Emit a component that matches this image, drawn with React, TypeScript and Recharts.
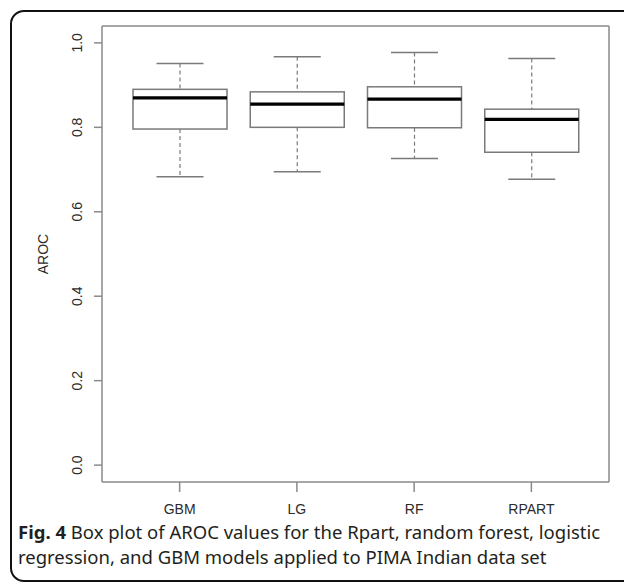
import React from 'react';
import { ComposedChart, Bar, XAxis, YAxis } from 'recharts';

// AROC box plot values
const models = ['GBM', 'LG', 'RF', 'RPART'];
const lowerWhisker = [0.683, 0.695, 0.726, 0.677];
const lowerQuartile = [0.796, 0.8, 0.799, 0.741];
const medians = [0.87, 0.855, 0.867, 0.819];
const upperQuartile = [0.89, 0.884, 0.896, 0.843];
const upperWhisker = [0.951, 0.967, 0.977, 0.963];
const yTicks = [0, 0.2, 0.4, 0.6, 0.8, 1.0];

const AXIS_GREY = '#8a8a8a';
const BOX_GREY = '#7a7a7a';
const TEXT = '#2b2b2b';
const FONT = '"Liberation Sans", Arial, sans-serif';

const data = models.map((name, i) => ({
  name,
  min: lowerWhisker[i],
  q1: lowerQuartile[i],
  median: medians[i],
  q3: upperQuartile[i],
  max: upperWhisker[i],
}));

// Draws one box: the bar spans min..max, inner values mapped linearly within it
const BoxShape = (props: any) => {
  const { x, y, width, height, payload } = props;
  if (!payload) return null;
  const top = Math.min(y, y + height);
  const bottom = Math.max(y, y + height);
  const toPx = (v: number) =>
    bottom - ((v - payload.min) / (payload.max - payload.min)) * (bottom - top);
  const cx = x + width / 2;
  const capHalf = width / 4;
  const yMin = toPx(payload.min);
  const yQ1 = toPx(payload.q1);
  const yMed = toPx(payload.median);
  const yQ3 = toPx(payload.q3);
  const yMax = toPx(payload.max);
  return (
    <g>
      <line x1={cx} x2={cx} y1={yMax} y2={yQ3} stroke={BOX_GREY} strokeWidth={1.2} strokeDasharray="4 3" />
      <line x1={cx} x2={cx} y1={yQ1} y2={yMin} stroke={BOX_GREY} strokeWidth={1.2} strokeDasharray="4 3" />
      <line x1={cx - capHalf} x2={cx + capHalf} y1={yMax} y2={yMax} stroke={BOX_GREY} strokeWidth={1.5} />
      <line x1={cx - capHalf} x2={cx + capHalf} y1={yMin} y2={yMin} stroke={BOX_GREY} strokeWidth={1.5} />
      <rect x={x} y={yQ3} width={width} height={yQ1 - yQ3} fill="#fff" stroke={BOX_GREY} strokeWidth={1.5} />
      <line x1={x} x2={x + width} y1={yMed} y2={yMed} stroke="#000" strokeWidth={3.2} />
    </g>
  );
};

const YTick = (props: any) => {
  const { x, y, payload } = props;
  return (
    <text
      x={x}
      y={y}
      dy="0.35em"
      textAnchor="middle"
      transform={`rotate(-90, ${x}, ${y})`}
      fill={TEXT}
      fontSize={14}
      fontFamily={FONT}
    >
      {Number(payload.value).toFixed(1)}
    </text>
  );
};

const XTick = (props: any) => {
  const { x, y, payload } = props;
  return (
    <text x={x} y={y} dy="0.35em" textAnchor="middle" fill={TEXT} fontSize={14} fontFamily={FONT}>
      {payload.value}
    </text>
  );
};

const AxisTitle = (props: any) => {
  const { viewBox } = props;
  const cx = viewBox.x + 43;
  const cy = viewBox.y + viewBox.height / 2;
  return (
    <text
      x={cx}
      y={cy}
      dy="0.35em"
      textAnchor="middle"
      transform={`rotate(-90, ${cx}, ${cy})`}
      fill={TEXT}
      fontSize={14}
      fontFamily={FONT}
    >
      AROC
    </text>
  );
};

export default function App() {
  return (
    <div style={{ position: 'absolute', left: 0, top: 0, width: 624, height: 584, background: '#fff', overflow: 'hidden' }}>
      <div
        style={{
          position: 'absolute',
          left: 10,
          top: 10,
          width: 700,
          height: 572,
          boxSizing: 'border-box',
          border: '2px solid #111',
          borderRadius: 14,
        }}
      />
      <div style={{ position: 'absolute', left: 0, top: 0 }}>
        <ComposedChart width={624} height={520} data={data} margin={{ top: 25, right: 14, left: 0, bottom: 0 }}>
          <XAxis
            dataKey="name"
            height={38}
            padding={{ left: 19, right: 19 }}
            axisLine={{ stroke: AXIS_GREY, strokeWidth: 1.5 }}
            tickLine={{ stroke: AXIS_GREY, strokeWidth: 1.5 }}
            tickSize={10}
            tickMargin={17}
            tick={<XTick />}
          />
          <XAxis
            xAxisId="top"
            orientation="top"
            dataKey="name"
            height={1}
            tick={false}
            tickLine={false}
            axisLine={{ stroke: AXIS_GREY, strokeWidth: 1.5 }}
          />
          <YAxis
            type="number"
            domain={[-0.04, 1.04]}
            ticks={yTicks}
            allowDataOverflow
            width={102}
            axisLine={{ stroke: AXIS_GREY, strokeWidth: 1.5 }}
            tickLine={{ stroke: AXIS_GREY, strokeWidth: 1.5 }}
            tickSize={8}
            tickMargin={17}
            tick={<YTick />}
            label={<AxisTitle />}
          />
          <YAxis
            yAxisId="right"
            orientation="right"
            width={1}
            type="number"
            domain={[-0.04, 1.04]}
            tick={false}
            tickLine={false}
            axisLine={{ stroke: AXIS_GREY, strokeWidth: 1.5 }}
          />
          <Bar
            dataKey={(d: any) => [d.min, d.max]}
            barSize={94}
            shape={<BoxShape />}
            isAnimationActive={false}
          />
          <Bar
            xAxisId="top"
            yAxisId="right"
            dataKey={() => 0}
            fill="none"
            isAnimationActive={false}
          />
        </ComposedChart>
      </div>
      <div
        style={{
          position: 'absolute',
          left: 18,
          top: 519,
          width: 600,
          fontFamily: '"Noto Sans", sans-serif',
          fontSize: 18.5,
          lineHeight: '25px',
          color: '#231f20',
        }}
      >
        <b>Fig. 4</b> Box plot of AROC values for the Rpart, random forest, logistic regression, and GBM models applied to PIMA Indian data set
      </div>
    </div>
  );
}
